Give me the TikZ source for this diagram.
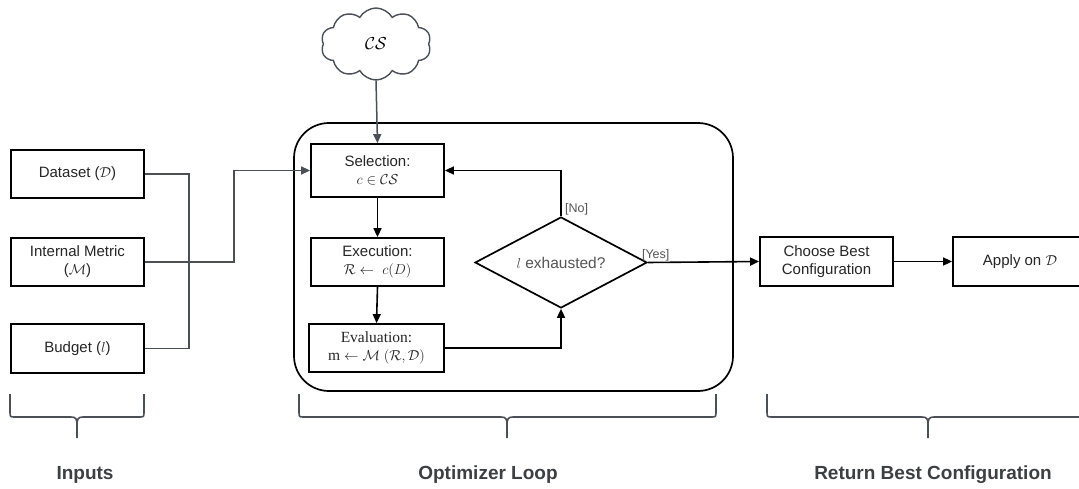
\documentclass[tikz,border=0pt]{standalone}
\usepackage{fontspec}
\setmainfont{Liberation Serif}
\setsansfont{Liberation Sans}
\usetikzlibrary{arrows.meta,shapes.geometric,shapes.symbols}
\definecolor{linegray}{HTML}{4B5057}
\definecolor{labgray}{HTML}{3C4043}
\definecolor{txtgray}{HTML}{555555}
\tikzset{
  box/.style={draw=black, line width=1.8pt, fill=white, minimum width=133pt, minimum height=48pt,
    inner sep=2pt, align=center, font=\sffamily\fontsize{15}{18}\selectfont, text=black!85},
  conn/.style={draw=linegray, line width=1.5pt},
  flow/.style={draw=black, line width=1.6pt},
  tip/.style={-{Triangle[length=9pt,width=8pt]}},
  brace/.style={draw=linegray, line width=1.6pt},
  lab/.style={font=\sffamily\bfseries\fontsize{19}{22}\selectfont, text=labgray},
  small/.style={font=\sffamily\fontsize{12.5}{14}\selectfont, text=txtgray, inner sep=1pt}
}
\begin{document}
\begin{tikzpicture}[x=1pt,y=-1pt]
\clip (0,0) rectangle (1079,489);
\fill[white] (0,0) rectangle (1079,489);

% container
\draw[line width=1.7pt, rounded corners=35pt] (294,123) rectangle (733,391);

% cloud
\node[cloud, draw=linegray, line width=1.4pt, cloud puffs=10, cloud puff arc=120, aspect=1.5,
  minimum width=110pt, minimum height=72pt, inner sep=0pt, font=\fontsize{16}{18}\selectfont] (cs) at (376,44) {$\mathcal{CS}$};

% inputs
\node[box] (dataset) at (77.5,174) {Dataset ($\mathcal{D}$)};
\node[box] (metric) at (77.5,262) {Internal Metric\\($\mathcal{M}$)};
\node[box, minimum height=49pt] (budget) at (77.5,348.5) {Budget ($l$)};

% loop
\node[box, minimum height=53pt] (sel) at (377.5,170.5) {Selection:\\$c \in \mathcal{CS}$};
\node[box] (exe) at (377.5,262) {Execution:\\$\mathcal{R} \leftarrow\ c(D)$};
\node[box, minimum width=135pt, font=\rmfamily\fontsize{15.5}{18}\selectfont] (eval) at (376.5,348) {Evaluation:\\$\mathrm{m} \leftarrow \mathcal{M}\ (\mathcal{R},\mathcal{D})$};
\node[diamond, draw=black, line width=1.7pt, minimum width=172pt, minimum height=91pt, aspect=1.89,
  inner sep=0pt, font=\sffamily\fontsize{15.5}{17}\selectfont, text=txtgray] (dec) at (561,262.5) {$l$ exhausted?};

% output
\node[box, minimum height=49pt] (choose) at (826.5,261.5) {Choose Best\\Configuration};
\node[box, minimum height=49pt, minimum width=134pt] (apply) at (1020,261.5) {Apply on $\mathcal{D}$};

% input connectors
\coordinate (jx) at (189,262);
\draw[conn] (dataset.east) -| (jx) |- (budget.east);
\draw[conn, tip] (metric.east) -- ++(89,0) |- (sel.west);
\draw[conn, tip] (cs.south) -- (sel.north);

% loop flow
\draw[flow, tip] (sel.south) -- (exe.north);
\draw[flow, tip] (exe.south) -- (eval.north);
\draw[flow, tip] (eval.east) -| (dec.south);
\draw[flow, tip] (dec.north) |- (sel.east);
\draw[flow, tip] (dec.east) -- (choose.west);
\draw[flow, tip] (choose.east) -- (apply.west);
\node[small, anchor=south west] (nolab) at ([xshift=3pt]dec.north) {[No]};
\node[small, anchor=south west] (yeslab) at ([xshift=-7pt]dec.east) {[Yes]};

% braces
\newcommand{\mybrace}[3]{%
  \draw[brace] (#1,394) -- (#1,411) .. controls (#1,417) .. (#1+5,417) -- (#3-6,417)
    .. controls (#3-1,417) and (#3,419) .. (#3,425) -- (#3,438)
    (#3,425) .. controls (#3,419) and (#3+1,417) .. (#3+6,417) -- (#2-5,417)
    .. controls (#2,417) .. (#2,411) -- (#2,394);}
\mybrace{10}{144}{77}
\mybrace{299}{716}{507}
\mybrace{767}{1095}{928}

\node[lab] (l1) at (85,475) {Inputs};
\node[lab] (l2) at (488,475) {Optimizer Loop};
\node[lab] (l3) at (933,475) {Return Best Configuration};
\end{tikzpicture}
\end{document}
